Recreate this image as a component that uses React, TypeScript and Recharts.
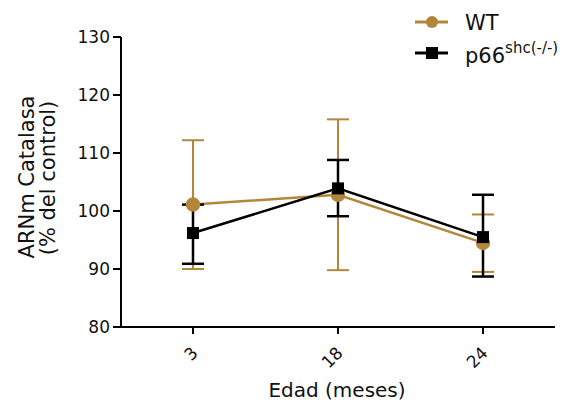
import { LineChart, Line, XAxis, YAxis, ErrorBar } from 'recharts'

const ages = ['3', '18', '24']
const wtMean = [101.1, 102.8, 94.5]
const wtErr = [[11.1, 11.1], [13, 13], [5, 4.9]]
const koMean = [96.2, 103.9, 95.5]
const koErr = [[5.3, 4.9], [4.8, 4.9], [6.8, 7.3]]
const yTicks = [80, 90, 100, 110, 120, 130]

const BROWN = '#b3873b'
const FONT = '"DejaVu Sans", "Liberation Sans", Arial, sans-serif'

const data = ages.map((age, i) => ({
    age,
    wt: wtMean[i],
    wtErr: wtErr[i],
    ko: koMean[i],
    koErr: koErr[i],
}))

const SquareDot = (props: any) => {
    const { cx, cy } = props
    if (cx == null || cy == null) return null
    return <rect x={cx - 6} y={cy - 6} width={12} height={12} fill="#000" />
}

// legend drawn by hand so it doesn't take space from the plot
const LegendBox = () => (
    <g fontFamily={FONT}>
        <line x1={415} y1={22} x2={448} y2={22} stroke={BROWN} strokeWidth={3} />
        <circle cx={432} cy={22} r={6} fill={BROWN} />
        <text x={465} y={30} fontSize={21} fill="#111">WT</text>
        <line x1={415} y1={53} x2={448} y2={53} stroke="#000" strokeWidth={3} />
        <rect x={426} y={47} width={12} height={12} fill="#000" />
        <text x={465} y={63} fontSize={21} fill="#111">
            p66<tspan fontSize={15} dy={-10}>shc(-/-)</tspan>
        </text>
    </g>
)

const XTick = (props: any) => {
    const { x, y, payload } = props
    return (
        <g transform={`translate(${x + 6},${y + 18})`}>
            <text x={0} y={0} textAnchor="end" transform="rotate(-45)" fontSize={17} fill="#111" fontFamily={FONT}>
                {payload.value}
            </text>
        </g>
    )
}

export default function App() {
    return (
        <div style={{ position: 'fixed', left: 0, top: 0, background: '#fff' }}>
            <LineChart width={562} height={405} data={data} margin={{ top: 37, right: 7, bottom: 0, left: 61 }}>
                <XAxis
                    dataKey="age"
                    padding={{ left: 72, right: 72 }}
                    axisLine={{ stroke: '#000', strokeWidth: 2 }}
                    tickLine={{ stroke: '#000', strokeWidth: 2 }}
                    tickSize={7}
                    tick={<XTick />}
                    height={78}
                />
                <YAxis
                    domain={[80, 130]}
                    ticks={yTicks}
                    width={60}
                    axisLine={{ stroke: '#000', strokeWidth: 2 }}
                    tickLine={{ stroke: '#000', strokeWidth: 2 }}
                    tickSize={8}
                    tickMargin={3}
                    tick={{ fontSize: 17, fill: '#111', fontFamily: FONT }}
                />
                <Line
                    dataKey="wt"
                    stroke={BROWN}
                    strokeWidth={2.5}
                    dot={{ r: 6, fill: BROWN, stroke: BROWN }}
                    isAnimationActive={false}
                >
                    <ErrorBar dataKey="wtErr" width={11} stroke={BROWN} strokeWidth={2} direction="y" />
                </Line>
                <Line
                    dataKey="ko"
                    stroke="#000"
                    strokeWidth={2.5}
                    dot={<SquareDot />}
                    isAnimationActive={false}
                >
                    <ErrorBar dataKey="koErr" width={11} stroke="#000" strokeWidth={2.5} direction="y" />
                </Line>
                <text x={337} y={397} textAnchor="middle" fontSize={20} fill="#111" fontFamily={FONT}>
                    Edad (meses)
                </text>
                <text x={27} y={177} transform="rotate(-90, 27, 177)" textAnchor="middle" dominantBaseline="central" fontSize={21} fill="#111" fontFamily={FONT}>
                    ARNm Catalasa
                </text>
                <text x={48} y={178} transform="rotate(-90, 48, 178)" textAnchor="middle" dominantBaseline="central" fontSize={21} fill="#111" fontFamily={FONT}>
                    (% del control)
                </text>
                <LegendBox />
            </LineChart>
        </div>
    )
}
